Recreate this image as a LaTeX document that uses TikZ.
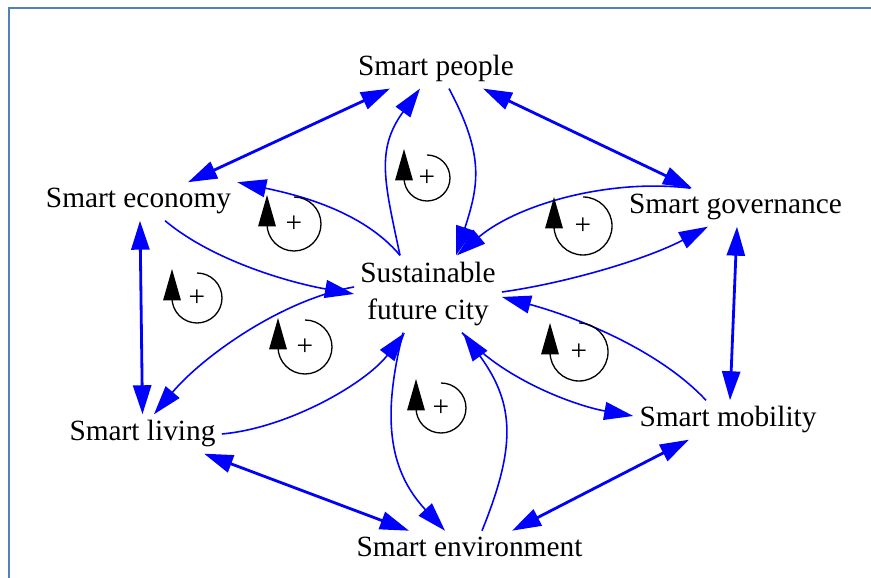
\documentclass[tikz,border=0pt]{standalone}
\usepackage{fontspec}
\setmainfont{Liberation Serif}
\usetikzlibrary{arrows.meta}
\definecolor{FrameBlue}{RGB}{79,129,189}
\newcommand{\PlusLoop}[4]{
\draw[loopline] ({#2},{#3+#4}) arc[start angle=90, end angle=-180, radius=#4cm]; % circle, clockwise
\fill ({#2-#4-0.18},{#3-0.05}) -- ({#2-#4},{#3+0.58}) -- ({#2-#4+0.18},{#3-0.05}) -- cycle; % head pointing up
\node[loopsign] (#1) at (#2,#3) {+};
}

\begin{document}
\begin{tikzpicture}[>={Triangle[length=0.58cm, width=0.36cm]},
element/.style={inner sep=0.12cm, font=\fontsize{16.7}{21.6}\selectfont},
link/.style={->, blue, line width=0.9pt},
bilink/.style={<->, blue, line width=1.6pt},
loopline/.style={black, line width=0.75pt},
loopsign/.style={inner sep=0, font=\fontsize{16.7}{20}\selectfont},
slideframe/.style={FrameBlue, line width=1.1pt}]
%%%%%%%%%%%%%%%%%%%%%%% SIZE OF THE PICTURE %%%%%%%%%%%%%%%%%%%%%%%
\useasboundingbox (0,0) rectangle (17.42,11.56);
\draw[slideframe] (0.18,0) -- (0.18,11.40) -- (17.42,11.40);
%%%%%%%%%%%%%%%%%%%%%%% ELEMENTS %%%%%%%%%%%%%%%%%%%%%%%
\node[element, anchor=base] (People) at (8.72,10.04) {Smart people};
\node[element, anchor=base] (Economy) at (2.77,7.40) {Smart economy};
\node[element, anchor=base] (Governance) at (14.71,7.28) {Smart governance};
\node[element, align=center] (City) at (8.56,5.68) {Sustainable\\future city};
\node[element, anchor=base] (Living) at (2.85,2.74) {Smart living};
\node[element, anchor=base] (Mobility) at (14.56,3.02) {Smart mobility};
\node[element, anchor=base] (Environment) at (9.39,0.43) {Smart environment};
%%%%%%%%%%%%%%%%%%%%%%% OUTER RING %%%%%%%%%%%%%%%%%%%%%%%
\draw[bilink] ([xshift=-0.92cm]People.south) -- ([xshift=0.99cm]Economy.north);
\draw[bilink] ([xshift=0.94cm]People.south) -- ([xshift=-0.87cm]Governance.north);
\draw[bilink] ([xshift=0.03cm]Economy.south) -- (Living.north);
\draw[bilink] ([xshift=0.03cm]Governance.south) -- ([xshift=0.04cm]Mobility.north);
\draw[bilink] ([xshift=1.23cm]Living.south) -- ([xshift=-1.21cm]Environment.north);
\draw[bilink] ([xshift=0.85cm]Environment.north) -- ([xshift=-0.78cm]Mobility.south);
%%%%%%%%%%%%%%%%%%%%%%% TO AND FROM THE CITY %%%%%%%%%%%%%%%%%%%%%%%
\draw[link] ([xshift=-0.56cm]City.north) to[out=102, in=-126, looseness=1.15] ([xshift=-0.32cm]People.south);
\draw[link] ([xshift=0.26cm]People.south) to[out=-62, in=72, looseness=1.15] ([xshift=0.56cm]City.north);
\draw[link] ([xshift=-0.56cm]City.north) to[out=130, in=-12, looseness=0.85] (Economy.north east);
\draw[link] ([xshift=0.53cm]Economy.south) to[out=-40, in=170, looseness=0.8] (City.west);
\draw[link] ([yshift=0.04cm]City.east) to[out=8, in=-152, looseness=0.8] ([xshift=-0.55cm]Governance.south);
\draw[link] ([xshift=-0.9cm]Governance.north) to[out=173, in=40, looseness=0.85] ([xshift=0.58cm]City.north);
\draw[link] ([xshift=0.68cm]City.south) to[out=-50, in=170, looseness=0.8] ([yshift=0.08cm]Mobility.west);
\draw[link] ([xshift=-0.44cm]Mobility.north) to[out=133, in=-15, looseness=0.8] ([yshift=-0.06cm]City.east);
\draw[link] ([yshift=0.14cm]City.west) to[out=190, in=50, looseness=0.8] ([xshift=0.23cm]Living.north);
\draw[link] (Living.east) to[out=5, in=-128, looseness=0.8] ([xshift=-0.46cm]City.south);
\draw[link] ([xshift=-0.5cm]City.south) to[out=-104, in=133, looseness=1.07] ([xshift=-0.49cm]Environment.north);
\draw[link] ([xshift=0.25cm]Environment.north) to[out=68, in=-54, looseness=1.15] ([xshift=0.7cm]City.south);
%%%%%%%%%%%%%%%%%%%%%%% REINFORCING LOOPS %%%%%%%%%%%%%%%%%%%%%%%
\PlusLoop{LoopPeople}{8.54}{8.00}{0.46}
\PlusLoop{LoopEconomy}{5.88}{7.08}{0.54}
\PlusLoop{LoopGovernance}{11.66}{7.04}{0.58}
\PlusLoop{LoopEcoLiving}{3.94}{5.60}{0.50}
\PlusLoop{LoopLiving}{6.10}{4.62}{0.54}
\PlusLoop{LoopMobility}{11.58}{4.52}{0.58}
\PlusLoop{LoopEnvironment}{8.82}{3.40}{0.50}
\end{tikzpicture}
\end{document}
